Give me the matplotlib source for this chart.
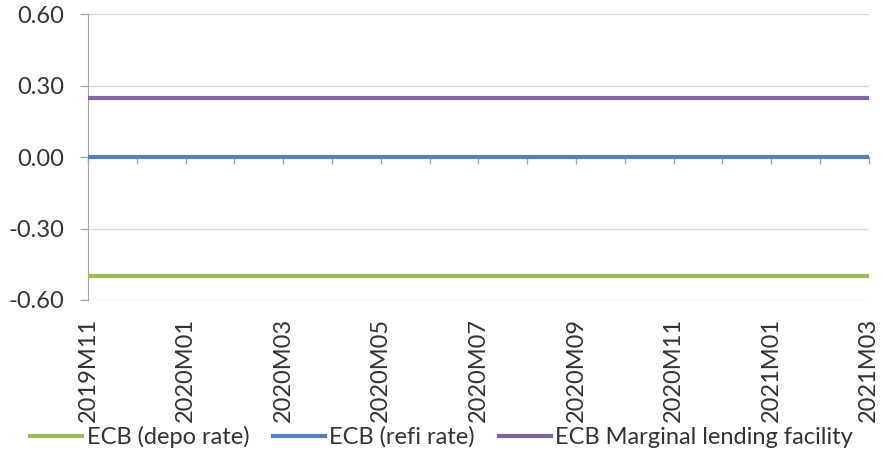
import matplotlib
matplotlib.use("Agg")
import matplotlib.pyplot as plt
import numpy as np

# monthly categories, 2019M11 .. 2021M03
months = ["2019M11", "2019M12", "2020M01", "2020M02", "2020M03", "2020M04",
          "2020M05", "2020M06", "2020M07", "2020M08", "2020M09", "2020M10",
          "2020M11", "2020M12", "2021M01", "2021M02", "2021M03"]
depo_rate = [-0.50] * len(months)
refi_rate = [0.00] * len(months)
mlf_rate = [0.25] * len(months)

plt.rcParams['font.family'] = ['Lato', 'DejaVu Sans']
text_col = "#333333"
fs = 17

fig = plt.figure(figsize=(8.83, 4.58), dpi=100)
ax = fig.add_axes([0.0997, 0.345, 0.8843, 0.624])

x = np.arange(len(months))
ax.plot(x, depo_rate, color="#9BBB59", lw=3, label="ECB (depo rate)", zorder=3)
ax.plot(x, refi_rate, color="#4F81BD", lw=3, label="ECB (refi rate)", zorder=3)
ax.plot(x, mlf_rate, color="#8064A2", lw=3, label="ECB Marginal lending facility", zorder=3)

ax.set_xlim(0, len(months) - 1)
ax.set_ylim(-0.6, 0.6)
ax.set_yticks([-0.6, -0.3, 0.0, 0.3, 0.6])
ax.set_yticklabels(["-0.60", "-0.30", "0.00", "0.30", "0.60"])
ax.yaxis.grid(True, color="#D9D9D9", lw=1)
ax.set_axisbelow(True)

ax.set_xticks(x[::2])
ax.set_xticklabels(months[::2], rotation=90)
ax.tick_params(axis='x', length=0, pad=13, labelsize=fs, colors=text_col)
ax.tick_params(axis='y', length=6, width=1, color="#A6A6A6", pad=11,
               labelsize=fs, labelcolor=text_col)

for s in ["top", "right", "bottom"]:
    ax.spines[s].set_visible(False)
ax.spines["left"].set_color("#A6A6A6")

# category axis crossing at zero with monthly tick marks pointing down
sec = ax.secondary_xaxis(0.5)
sec.set_xticks(x)
sec.xaxis.set_ticks_position('bottom')
sec.tick_params(axis='x', direction='out', length=5, width=1, color="#A6A6A6",
                labelbottom=False, labeltop=False)
for s in sec.spines.values():
    s.set_color("#A6A6A6")

fig.legend(loc="center", bbox_to_anchor=(0.5, 0.046), ncol=3, frameon=False,
           fontsize=fs, handlelength=2.2, handletextpad=0.2, columnspacing=1.0,
           labelcolor=text_col)

fig.savefig("out.png", dpi=100)
